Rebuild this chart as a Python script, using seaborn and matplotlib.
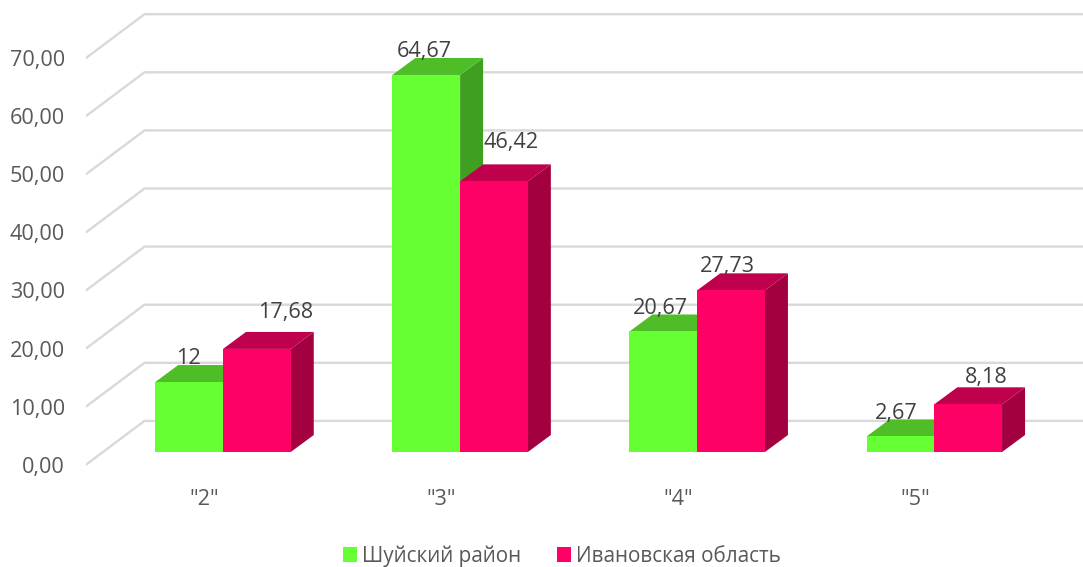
import pandas as pd
import matplotlib.pyplot as plt
import seaborn as sns
from matplotlib.patches import Polygon
from matplotlib.transforms import ScaledTranslation

categories = ['"2"', '"3"', '"4"', '"5"']
shuya = [12, 64.67, 20.67, 2.67]
ivanovo = [17.68, 46.42, 27.73, 8.18]
shuya_labels = ["12", "64,67", "20,67", "2,67"]
ivanovo_labels = ["17,68", "46,42", "27,73", "8,18"]
y_ticks = [0, 10, 20, 30, 40, 50, 60, 70]

names = ["Шуйский район", "Ивановская область"]
colors = {names[0]: "#66FF33", names[1]: "#FF0066"}
top_colors = ["#4FBD28", "#BF004C"]
side_colors = ["#3F9F20", "#A3003F"]

# label shift from the middle of the bar top, in pixels
shuya_shift = [(-1, 24), (-2, 23), (-3, 23), (-4, 23)]
ivanovo_shift = [(29, 36), (17, 39), (-4, 24), (18, 27)]

W, H = 1083, 567
DPI = 100
sns.set_style("white")
plt.rcParams["font.family"] = ["Open Sans", "DejaVu Sans"]

fig = plt.figure(figsize=(W / DPI, H / DPI), dpi=DPI)
px = 72 / DPI
step = 237.1

# back grid with the value axis
grid_ax = fig.add_axes([86 / W, 0, 1 - 86 / W, 1])
unit = 58.1 / 10
zero_y = 464.7
grid_ax.set_ylim(-(H - zero_y) / unit, zero_y / unit)
grid_ax.set_xlim(86, W)
grid_ax.set_xticks([])
grid_ax.set_yticks(y_ticks)
grid_ax.set_yticklabels([f"{v:.2f}".replace(".", ",") for v in y_ticks])
grid_ax.tick_params(axis="y", length=0, pad=21 * px, labelsize=15.6, labelcolor="#595959")
sns.despine(ax=grid_ax, left=True, bottom=True)
wall = 43.8 / unit
for v in y_ticks:
    grid_ax.plot([86, 144.5, W], [v, v + wall, v + wall], color="#D9D9D9", lw=1.7,
                 solid_joinstyle="miter")

# bars
df = pd.DataFrame({
    "cat": categories * 2,
    "val": shuya + ivanovo,
    "name": [names[0]] * 4 + [names[1]] * 4,
})
ax = fig.add_axes([0, 1 - 452 / H, 1, 452 / H])
ax.patch.set_visible(False)
sns.barplot(data=df, x="cat", y="val", hue="name", palette=colors, width=135.5 / step,
            gap=0, saturation=1, linewidth=0, ax=ax, zorder=3, legend=True)
ax.set_xlim(-223 / step, (W - 223) / step)
ax.set_ylim(0, 452 / 5.83)
ax.set_xlabel("")
ax.set_ylabel("")
ax.set_yticks([])
ax.tick_params(axis="x", length=0, pad=37 * px, labelsize=15.6, labelcolor="#595959")
sns.despine(ax=ax, left=True, bottom=True)
for lab in ax.get_xticklabels():
    lab.set_transform(lab.get_transform() + ScaledTranslation(-19 / DPI, 0, fig.dpi_scale_trans))

# depth faces
dx = 23 / step
dy = 17 / 5.83
for i, cont in enumerate(ax.containers):
    for bar in cont:
        x0, x1 = bar.get_x(), bar.get_x() + bar.get_width()
        h = bar.get_height()
        side = [(x1, 0), (x1 + dx, dy), (x1 + dx, h + dy), (x1, h)]
        top = [(x0, h), (x0 + dx, h + dy), (x1 + dx, h + dy), (x1, h)]
        ax.add_patch(Polygon(side, closed=True, fc=side_colors[i], ec="none", zorder=1 + i))
        ax.add_patch(Polygon(top, closed=True, fc=top_colors[i], ec="none", zorder=1 + i))

# value labels
all_labels = [shuya_labels, ivanovo_labels]
all_shift = [shuya_shift, ivanovo_shift]
for i, cont in enumerate(ax.containers):
    for bar, txt, (sx, sy) in zip(cont, all_labels[i], all_shift[i]):
        ax.annotate(txt, (bar.get_x() + bar.get_width() / 2, bar.get_height()),
                    xytext=(sx * px, sy * px), textcoords="offset points", ha="center",
                    va="center", fontsize=15.6, color="#404040", zorder=5)

ax.legend(title=None, loc="center", bbox_to_anchor=(562 / W, 1 - 556 / H),
          bbox_transform=fig.transFigure, ncol=2, frameon=False, fontsize=14.9,
          labelcolor="#595959", handlelength=0.7, handleheight=0.7,
          handletextpad=0.25, columnspacing=1.7)

fig.savefig("out.png", dpi=DPI)
